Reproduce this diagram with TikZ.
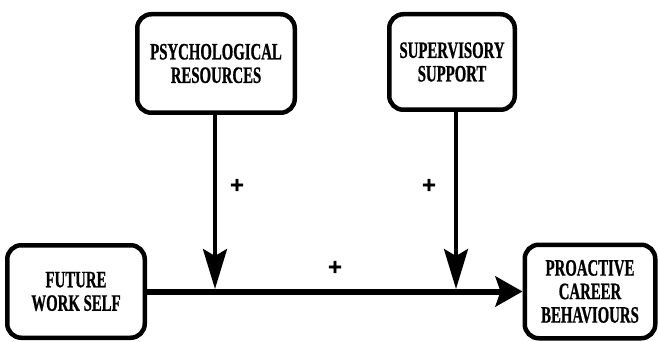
\documentclass[tikz,border=0pt]{standalone}
\usepackage{fontspec}
\setmainfont{Liberation Serif}[FakeStretch=0.63, FakeBold=0.8]
\newfontfamily\plusfont{DejaVu Sans}[FakeBold=2]
\usetikzlibrary{arrows.meta}
\begin{document}
\begin{tikzpicture}[x=1pt,y=-1pt,
  box/.style={draw, line width=4.5pt, rounded corners=14pt, align=center,
    font=\fontsize{23.5}{23.5}\selectfont\bfseries, inner sep=0pt},
  vconn/.style={line width=4pt, -{Stealth[length=40pt,width=24pt,inset=7pt]}},
  hconn/.style={line width=6pt, -{Stealth[length=27pt,width=30pt,inset=5pt]}},
  plus/.style={font=\plusfont\fontsize{19}{19}\selectfont\bfseries, inner sep=0pt}]
\useasboundingbox (0,0) rectangle (658,342);
\node[box, minimum width=137.5pt, minimum height=92.5pt] (fws) at (76,291.5) {FUTURE\\WORK SELF};
\node[box, minimum width=157.5pt, minimum height=98.5pt] (psy) at (216,63.5) {PSYCHOLOGICAL\\RESOURCES};
\node[box, minimum width=125.5pt, minimum height=95.5pt] (sup) at (452,62) {SUPERVISORY\\SUPPORT};
\node[box, minimum width=130.5pt, minimum height=93.5pt] (pcb) at (590,291.5) {PROACTIVE\\CAREER\\BEHAVIOURS};
\coordinate (j1) at (215,289);
\coordinate (j2) at (456,289);
\draw[hconn] (fws.east) -- (pcb.west);
\draw[vconn] (psy.south -| j1) -- (j1);
\draw[vconn] (sup.south -| j2) -- (j2);
\node[plus] (p1) at (237,185) {+};
\node[plus] (p2) at (429,185) {+};
\node[plus] (p3) at (335,267) {+};
\end{tikzpicture}
\end{document}
